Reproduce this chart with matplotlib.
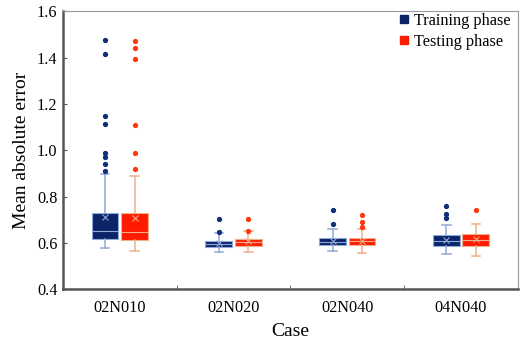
import matplotlib
matplotlib.use("Agg")
import matplotlib.pyplot as plt
from matplotlib.lines import Line2D
import numpy as np

cases = ["02N010", "02N020", "02N040", "04N040"]

# Training phase box statistics
train_whislo = [0.578, 0.561, 0.565, 0.551]
train_q1 = [0.615, 0.583, 0.590, 0.586]
train_med = [0.650, 0.596, 0.604, 0.608]
train_mean = [0.712, 0.599, 0.607, 0.611]
train_q3 = [0.731, 0.608, 0.619, 0.633]
train_whishi = [0.899, 0.642, 0.658, 0.679]
train_fliers = [[1.475, 1.415, 1.15, 1.115, 0.99, 0.97, 0.94, 0.91],
                [0.702, 0.645],
                [0.740, 0.681],
                [0.758, 0.724, 0.706]]

# Testing phase box statistics
test_whislo = [0.565, 0.561, 0.558, 0.545]
test_q1 = [0.611, 0.587, 0.590, 0.587]
test_med = [0.645, 0.602, 0.607, 0.614]
test_mean = [0.708, 0.607, 0.607, 0.616]
test_q3 = [0.731, 0.617, 0.621, 0.637]
test_whishi = [0.889, 0.650, 0.658, 0.682]
test_fliers = [[1.47, 1.44, 1.395, 1.11, 0.99, 0.92],
               [0.705, 0.653],
               [0.722, 0.690, 0.668],
               [0.741]]

serif = ["Liberation Serif", "DejaVu Serif"]

def make_stats(wl, q1, med, mean, q3, wh, fl):
    return [dict(whislo=a, q1=b, med=c, mean=d, q3=e, whishi=f, fliers=g)
            for a, b, c, d, e, f, g in zip(wl, q1, med, mean, q3, wh, fl)]

fig = plt.figure(figsize=(5.21, 3.45), dpi=100)
ax = fig.add_axes([0.121, 0.162, 0.873, 0.805])

x = np.arange(1, len(cases) + 1)
off = 0.13
w = 0.235

def draw(stats, pos, face, edge, flier_c):
    ax.bxp(stats, positions=pos, widths=w, patch_artist=True, showmeans=True,
           capwidths=0.075,
           boxprops=dict(facecolor=face, edgecolor=edge, linewidth=0.8),
           medianprops=dict(color=edge, linewidth=0.8),
           whiskerprops=dict(color=edge, linewidth=1.1),
           capprops=dict(color=edge, linewidth=1.1),
           meanprops=dict(marker="x", markeredgecolor=edge, markersize=5, markeredgewidth=0.8),
           flierprops=dict(marker="o", markerfacecolor=flier_c, markeredgecolor=flier_c, markersize=2.8))

train_c, train_e = "#0B2467", "#8FAAD9"
test_c, test_e = "#FF1A00", "#EDB08A"
draw(make_stats(train_whislo, train_q1, train_med, train_mean, train_q3, train_whishi, train_fliers),
     x - off, train_c, train_e, "#12307A")
draw(make_stats(test_whislo, test_q1, test_med, test_mean, test_q3, test_whishi, test_fliers),
     x + off, test_c, test_e, "#FF3A10")

ax.set_xlim(0.5, 4.5)
ax.set_ylim(0.4, 1.6)
ax.set_yticks([0.4, 0.6, 0.8, 1.0, 1.2, 1.4, 1.6])
ax.set_yticklabels(["0.4", "0.6", "0.8", "1.0", "1.2", "1.4", "1.6"], fontfamily=serif, fontsize=11.7)
ax.set_xticks(x)
ax.set_xticklabels(cases, fontfamily=serif, fontsize=11.7)
ax.tick_params(axis="x", length=0, pad=8)
ax.set_xticks([1.5, 2.5, 3.5], minor=True)
ax.tick_params(axis="x", which="minor", direction="in", length=3, color="#555555")
ax.tick_params(axis="y", direction="in", length=3, color="#555555", pad=4)

for s in ["left", "bottom"]:
    ax.spines[s].set_color("#555555")
    ax.spines[s].set_linewidth(1.8)
for s in ["top", "right"]:
    ax.spines[s].set_color("#999999")
    ax.spines[s].set_linewidth(0.8)

ax.set_xlabel("Case", fontfamily=serif, fontsize=14, labelpad=5)
ax.set_ylabel("Mean absolute error", fontfamily=serif, fontsize=14, labelpad=5)

handles = [Line2D([], [], marker="s", linestyle="none", markerfacecolor=train_c,
                  markeredgecolor=train_c, markersize=6, label="Training phase"),
           Line2D([], [], marker="s", linestyle="none", markerfacecolor=test_c,
                  markeredgecolor=test_c, markersize=6, label="Testing phase")]
ax.legend(handles=handles, loc="upper right", bbox_to_anchor=(0.988, 1.0), frameon=False,
          prop=dict(family=serif, size=11.7),
          handletextpad=0.1, handlelength=1.0, borderaxespad=0.0, borderpad=0.1, labelspacing=0.3)

fig.savefig("out.png", dpi=100)
